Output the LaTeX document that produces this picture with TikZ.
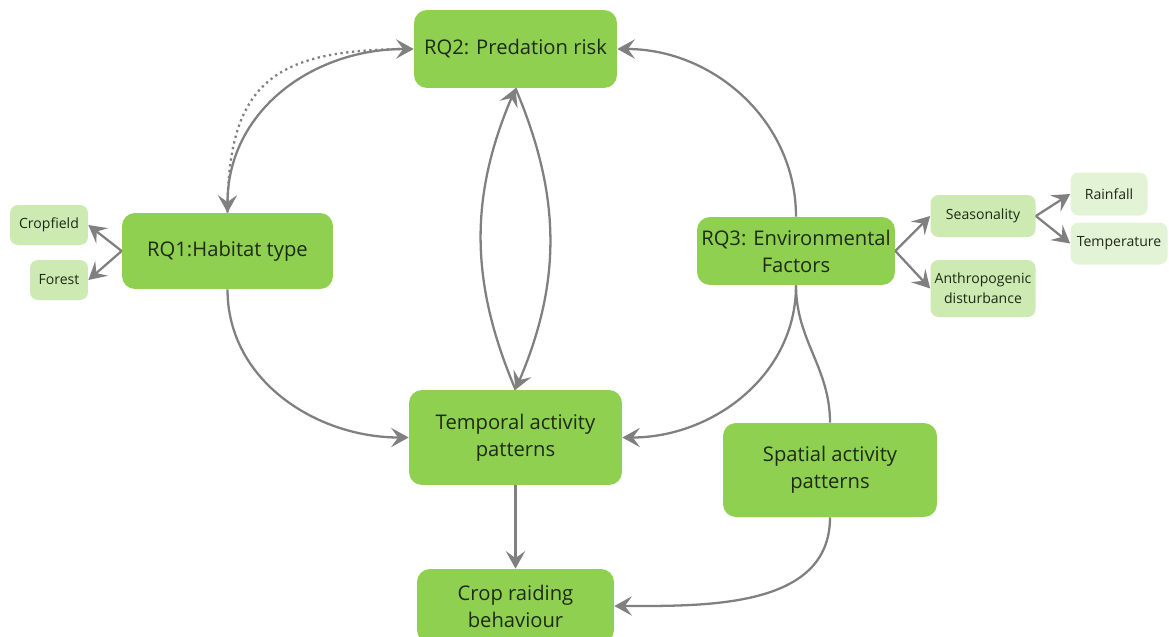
\documentclass[tikz,border=0pt]{standalone}
\usepackage{fontspec}
\setmainfont{Open Sans}
\usetikzlibrary{arrows.meta}
\definecolor{rq_green}{RGB}{143, 208, 80}
\definecolor{sub_green}{RGB}{204, 234, 178}
\definecolor{leaf_green}{RGB}{227, 243, 214}
\definecolor{txt_dark}{RGB}{30, 42, 22}
\definecolor{link_grey}{RGB}{128, 128, 128}
\tikzstyle{rq}=[rectangle,rounded corners=0.26cm,fill=rq_green,text=txt_dark,
  align=center,inner sep=0pt,font=\fontsize{11.5}{15.3}\selectfont]
\tikzstyle{sub}=[rectangle,rounded corners=0.16cm,fill=sub_green,text=txt_dark,
  align=center,inner sep=0pt,font=\fontsize{8}{11.3}\selectfont]
\tikzstyle{leaf}=[sub,fill=leaf_green]
\tikzstyle{lnk}=[draw=link_grey,line width=1.3pt]
\tikzstyle{arr}=[lnk,-{Stealth[length=10pt,width=11pt,inset=4pt]}]
\tikzstyle{biarr}=[lnk,{Stealth[length=10pt,width=11pt,inset=4pt]}-{Stealth[length=10pt,width=11pt,inset=4pt]}]

\begin{document}
\begin{tikzpicture}[x=0.02cm, y=0.02cm]
    \useasboundingbox (0, 0) rectangle (1169, -636);
    \node [style=rq, minimum width=4.06cm, minimum height=1.56cm] (0) at (515.5, -49) {RQ2: Predation risk};
    \node [style=rq, minimum width=4.22cm, minimum height=1.52cm] (1) at (227.5, -251) {RQ1:Habitat type};
    \node [style=rq, minimum width=3.96cm, minimum height=1.36cm] (2) at (796, -251) {RQ3: Environmental\\Factors};
    \node [style=rq, minimum width=4.26cm, minimum height=1.9cm] (3) at (515.5, -437.5) {Temporal activity\\patterns};
    \node [style=rq, minimum width=4.28cm, minimum height=1.88cm] (4) at (830, -470) {Spatial activity\\patterns};
    \node [style=rq, minimum width=3.94cm, minimum height=1.48cm] (5) at (515.5, -606) {Crop raiding\\behaviour};
    \node [style=sub, minimum width=1.56cm, minimum height=0.8cm] (6) at (49, -225) {Cropfield};
    \node [style=sub, minimum width=1.16cm, minimum height=0.8cm] (7) at (59, -280) {Forest};
    \node [style=sub, minimum width=2.1cm, minimum height=0.84cm] (8) at (983, -216) {Seasonality};
    \node [style=sub, minimum width=2.1cm, minimum height=1.14cm] (9) at (983, -288.5) {Anthropogenic\\disturbance};
    \node [style=leaf, minimum width=1.54cm, minimum height=0.86cm] (10) at (1109, -194) {Rainfall};
    \node [style=leaf, minimum width=1.94cm, minimum height=0.84cm] (11) at (1119, -243.5) {Temperature};
    \draw [style=lnk, dotted, out=90, in=180, looseness=1.4] (1.north) to (0.west);
    \draw [style=biarr, out=90, in=180, looseness=1.05] (1.north) to (0.west);
    \draw [style=arr] (1.west) to (6.east);
    \draw [style=arr] (1.west) to (7.east);
    \draw [style=arr, out=-90, in=180] (1.south) to (3.west);
    \draw [style=arr, bend left=23] (3.north) to (0.south);
    \draw [style=arr, bend left=23] (0.south) to (3.north);
    \draw [style=arr, out=90, in=0] (2.north) to (0.east);
    \draw [style=arr, out=-90, in=0] (2.south) to (3.east);
    \draw [style=lnk, out=-90, in=90] (2.south) to (4.north);
    \draw [style=arr, out=-90, in=0] (4.south) to (5.east);
    \draw [style=arr] (3) to (5);
    \draw [style=arr] (2.east) to (8.west);
    \draw [style=arr] (2.east) to (9.west);
    \draw [style=arr] (8.east) to (10.west);
    \draw [style=arr] (8.east) to (11.west);
\end{tikzpicture}
\end{document}
